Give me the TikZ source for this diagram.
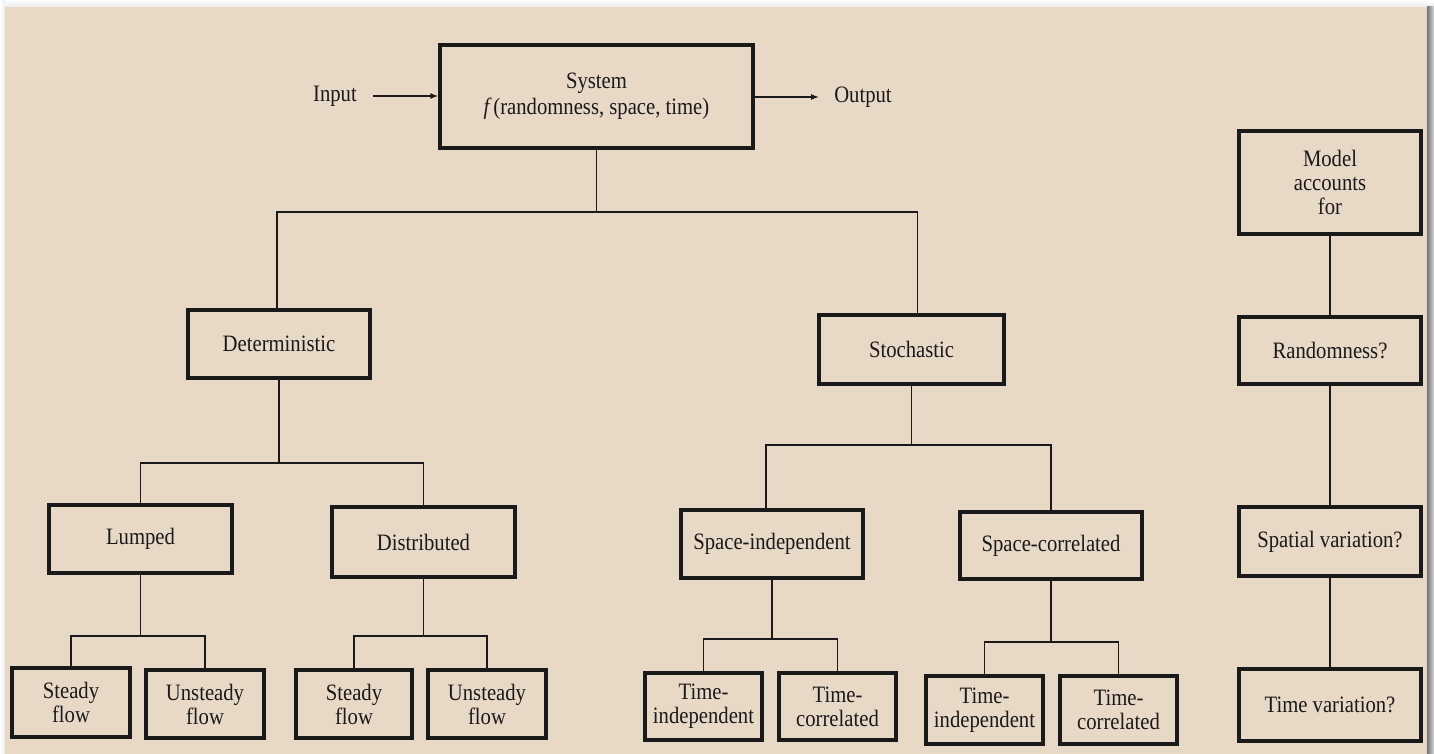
\documentclass[tikz,border=0pt]{standalone}
\usepackage{fontspec}
\setmainfont{Liberation Serif}[FakeStretch=0.88]
\usetikzlibrary{arrows.meta}
\definecolor{paper}{HTML}{E8D9C6}
\definecolor{ink}{HTML}{1A1A1A}
\begin{document}
\begin{tikzpicture}[x=1pt,y=-1pt,
  box/.style={draw=ink, line width=3.3pt, text=ink, align=center, inner sep=0pt,
    font=\fontsize{23.5}{24}\selectfont},
  lbl/.style={text=ink, inner sep=0pt, font=\fontsize{23.5}{24}\selectfont},
  conn/.style={draw=ink, line width=1.5pt},
  arr/.style={draw=ink, line width=1.5pt, -{Latex[length=8pt,width=6pt]}}]
\useasboundingbox (0,0) rectangle (1434,754);
% page background and shadows
\fill[white] (0,0) rectangle (1434,754);
\shade[top color=white, bottom color=black!8] (0,0) rectangle (1434,7);
\shade[left color=white, right color=black!8] (0,0) rectangle (5,754);
\shade[left color=black!55, right color=black!15] (1427,7) rectangle (1434,754);
\fill[paper] (5,7) rectangle (1427,754);
% boxes
\node[box, minimum width=313pt, minimum height=103pt] (sys) at (596.5,96.5)
  {System\\[2pt] \textit{f\,}(randomness, space, time)};
\node[box, minimum width=182pt, minimum height=68pt] (det) at (279,344) {Deterministic};
\node[box, minimum width=185pt, minimum height=69pt] (sto) at (911.5,349.5) {Stochastic};
\node[box, minimum width=183pt, minimum height=68pt] (lum) at (140.5,539) {Lumped};
\node[box, minimum width=183pt, minimum height=70pt] (dis) at (423.5,542) {Distributed};
\node[box, minimum width=182pt, minimum height=68pt] (spi) at (772,544) {Space-independent};
\node[box, minimum width=182pt, minimum height=67pt] (spc) at (1051,545.5) {Space-correlated};
\node[box, minimum width=118pt, minimum height=69pt] (sf1) at (71,702.5) {Steady\\flow};
\node[box, minimum width=118pt, minimum height=68pt] (uf1) at (205,704) {Unsteady\\flow};
\node[box, minimum width=116pt, minimum height=68pt] (sf2) at (354,704) {Steady\\flow};
\node[box, minimum width=118pt, minimum height=68pt] (uf2) at (487,704) {Unsteady\\flow};
\node[box, minimum width=117pt, minimum height=67pt] (ti1) at (703.5,706.5) {Time-\\independent};
\node[box, minimum width=117pt, minimum height=67pt] (tc1) at (837.5,706.5) {Time-\\correlated};
\node[box, minimum width=117pt, minimum height=68pt] (ti2) at (984.5,710) {Time-\\independent};
\node[box, minimum width=117pt, minimum height=68pt] (tc2) at (1118.5,710) {Time-\\correlated};
\node[box, minimum width=182pt, minimum height=103pt] (mod) at (1330,182.5) {Model\\accounts\\for};
\node[box, minimum width=182pt, minimum height=67pt] (ran) at (1330,350.5) {Randomness?};
\node[box, minimum width=182pt, minimum height=69pt] (spa) at (1330,541.5) {Spatial variation?};
\node[box, minimum width=182pt, minimum height=72pt] (tim) at (1330,705) {Time variation?};
% input / output
\node[lbl] (in) at (335,96) {Input};
\node[lbl] (out) at (863,97) {Output};
\draw[arr] ([xshift=16pt]in.east) -- (sys.west |- in.east);
\draw[arr] (sys.east |- out.west) -- ([xshift=-15pt]out.west);
% tree connectors
\coordinate (b0) at (600,212);
\draw[conn] (sys.south) -- (sys.south |- b0);
\draw[conn] ([xshift=-2pt]det.north) |- (b0) -| ([xshift=6pt]sto.north);
\coordinate (b1) at (281,463);
\draw[conn] (det.south) -- (det.south |- b1);
\draw[conn] (lum.north) |- (b1) -| (dis.north);
\coordinate (b2) at (912,445);
\draw[conn] (sto.south) -- (sto.south |- b2);
\draw[conn] ([xshift=-6pt]spi.north) |- (b2) -| (spc.north);
\coordinate (b3) at (139,636);
\draw[conn] (lum.south) -- (lum.south |- b3);
\draw[conn] (sf1.north) |- (b3) -| (uf1.north);
\coordinate (b4) at (421,636);
\draw[conn] (dis.south) -- (dis.south |- b4);
\draw[conn] (sf2.north) |- (b4) -| (uf2.north);
\coordinate (b5) at (771,639);
\draw[conn] (spi.south) -- (spi.south |- b5);
\draw[conn] (ti1.north) |- (b5) -| (tc1.north);
\coordinate (b6) at (1054,642);
\draw[conn] (spc.south) -- (spc.south |- b6);
\draw[conn] (ti2.north) |- (b6) -| (tc2.north);
% right column
\draw[conn] (mod.south) -- (ran.north);
\draw[conn] (ran.south) -- (spa.north);
\draw[conn] (spa.south) -- (tim.north);
\end{tikzpicture}
\end{document}
